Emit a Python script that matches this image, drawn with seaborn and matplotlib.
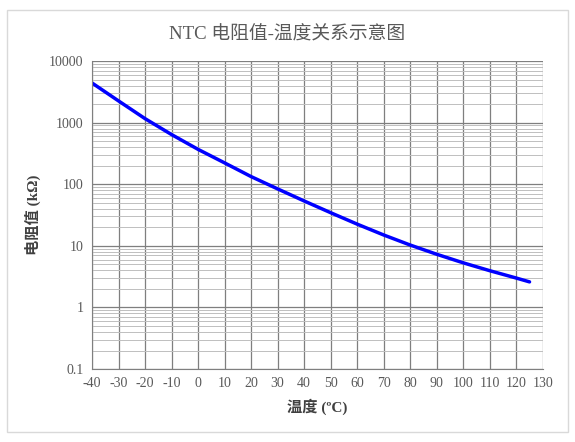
import matplotlib
matplotlib.use("Agg")
import matplotlib.pyplot as plt
import matplotlib.patches as patches
from matplotlib.ticker import LogLocator, FixedLocator, FixedFormatter, NullFormatter
import seaborn as sns

# temperature (°C) and resistance (kΩ)
temps = [-40, -30, -20, -10, 0, 10, 20, 30, 40, 50, 60, 70, 80, 90, 100, 110,
         120, 125]
resistance = [4400, 2250, 1160, 640, 368, 222, 133, 84, 53.5, 34.5, 22.5, 15.0,
              10.3, 7.3, 5.3, 3.95, 3.0, 2.6]

x_ticks = list(range(-40, 131, 10))
y_ticks = [0.1, 1, 10, 100, 1000, 10000]
y_tick_labels = ["0.1", "1", "10", "100", "1000", "10000"]

title = "NTC 电阻值-温度关系示意图"
x_label = "温度 (ºC)"
y_label = "电阻值 (kΩ)"

sns.set_style("white")
plt.rcParams["font.family"] = ["Liberation Serif", "Noto Sans CJK SC", "DejaVu Sans"]
plt.rcParams["axes.unicode_minus"] = False

fig = plt.figure(figsize=(5.75, 4.42), dpi=100)
ax = fig.add_axes([0.160, 0.165, 0.784, 0.697])

# chart border
fig.patches.append(patches.Rectangle((7 / 575, 10 / 442), 561 / 575, 422 / 442,
                                     transform=fig.transFigure, fill=False,
                                     edgecolor="#d9d9d9", linewidth=1))

sns.lineplot(x=temps, y=resistance, ax=ax, color="#0000ff", linewidth=2.5)

ax.set_yscale("log")
ax.set_xlim(-40, 130)
ax.set_ylim(0.1, 10000)
ax.xaxis.set_major_locator(FixedLocator(x_ticks))
ax.yaxis.set_major_locator(FixedLocator(y_ticks))
ax.yaxis.set_major_formatter(FixedFormatter(y_tick_labels))
ax.yaxis.set_minor_locator(LogLocator(base=10, subs=range(2, 10), numticks=20))
ax.yaxis.set_minor_formatter(NullFormatter())

ax.grid(which="major", axis="both", color="#7f7f7f", linewidth=0.9)
ax.grid(which="minor", axis="y", color="#bfbfbf", linewidth=0.7)
ax.tick_params(which="both", length=0, labelsize=10, labelcolor="#595959", pad=6)
for side in ["left", "bottom"]:
    ax.spines[side].set_color("#7f7f7f")
for side in ["top", "right"]:
    ax.spines[side].set_visible(False)

fig.text(0.5, 1 - 35 / 442, title, ha="center", va="center",
         fontsize=13.5, color="#595959")
ax.set_xlabel(x_label, fontsize=11, fontweight="bold", color="#404040", labelpad=6)
ax.set_ylabel(y_label, fontsize=11, fontweight="bold", color="#404040", labelpad=6)

fig.savefig("out.png", dpi=100)
